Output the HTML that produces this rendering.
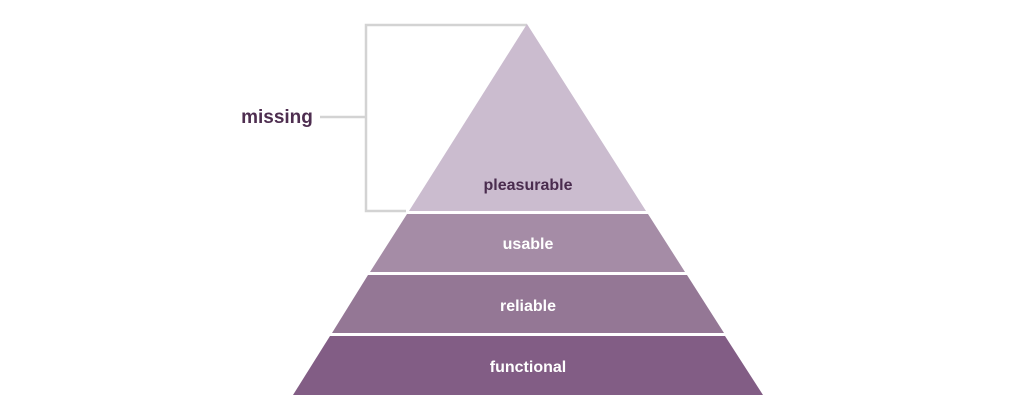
<!DOCTYPE html>
<html><head><style>
html,body{margin:0;padding:0;background:#fff;}
svg{display:block;}
text{font-family:"Liberation Sans",sans-serif;font-weight:bold;}
</style></head><body>
<svg width="1024" height="417" viewBox="0 0 1024 417">
<rect width="1024" height="417" fill="#fff"/>
<polyline points="527,25 366,25 366,211 406,211" fill="none" stroke="#d3d3d3" stroke-width="2.5"/>
<line x1="320" y1="117" x2="366" y2="117" stroke="#d3d3d3" stroke-width="2.5"/>
<text x="277" y="123" font-size="19" fill="#4e2e50" text-anchor="middle">missing</text>
<polygon points="527,24 646,211 409,211" fill="#cbbccf"/>
<polygon points="407,214 648,214 685,272 370,272" fill="#a58ca6"/>
<polygon points="368,275 687,275 724,333 332,333" fill="#947795"/>
<polygon points="330,336 725,336 763,395 293,395" fill="#825d85"/>
<text x="528" y="190" font-size="16" fill="#4a2c4e" text-anchor="middle">pleasurable</text>
<text x="528" y="249" font-size="16" fill="#fff" text-anchor="middle">usable</text>
<text x="528" y="311" font-size="16" fill="#fff" text-anchor="middle">reliable</text>
<text x="528" y="372" font-size="16" fill="#fff" text-anchor="middle">functional</text>
</svg>
</body></html>
